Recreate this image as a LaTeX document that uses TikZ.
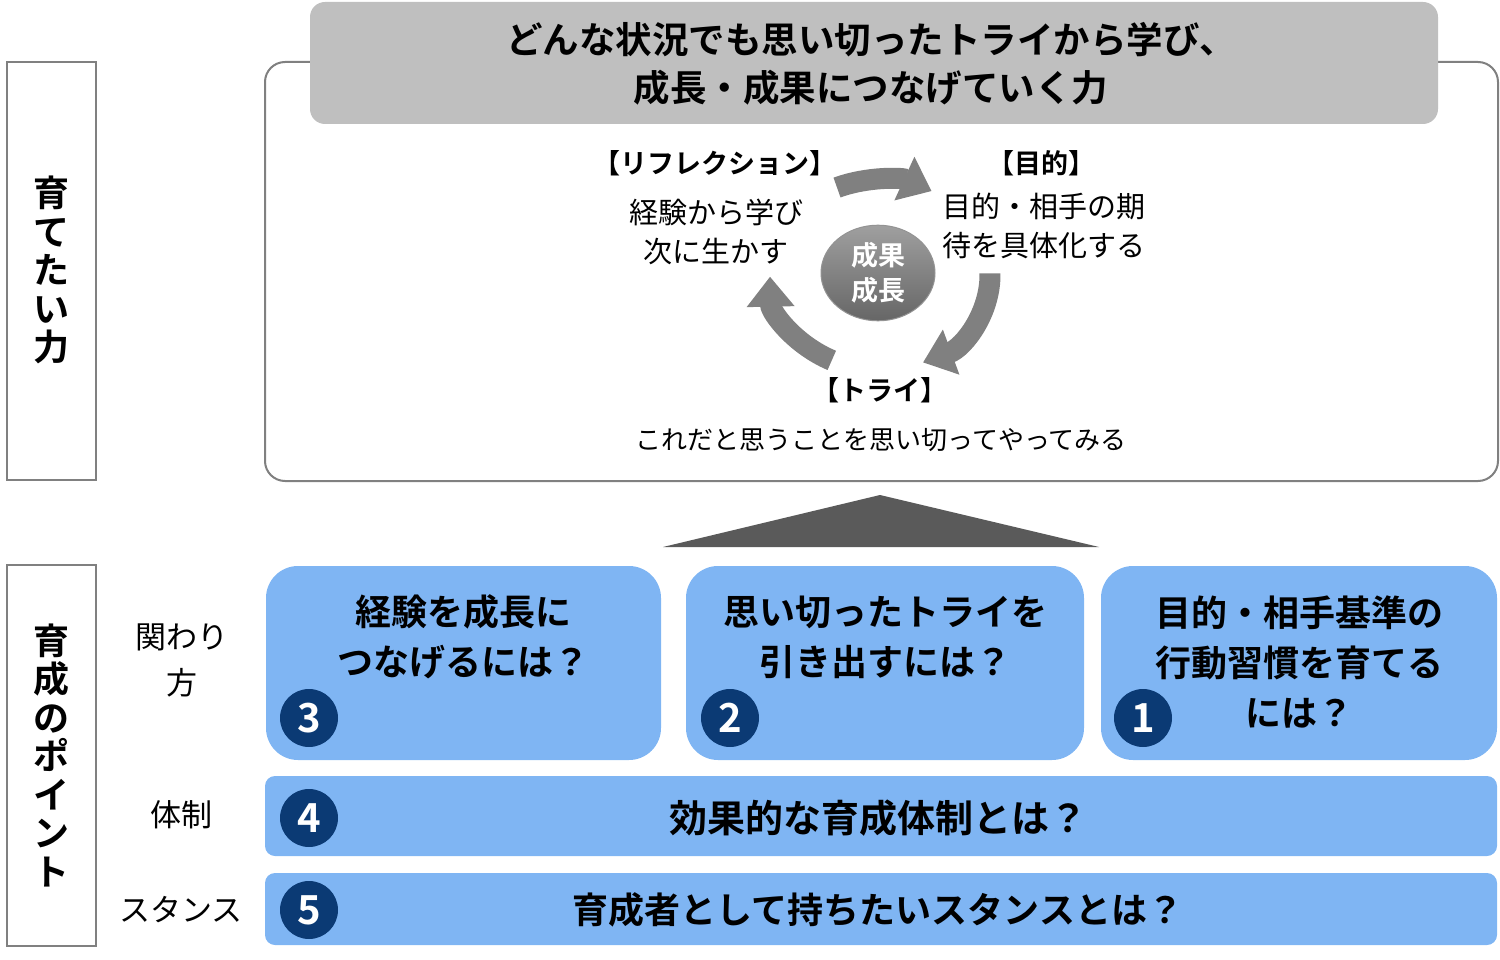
\documentclass[tikz,border=0pt]{standalone}
\usepackage{fontspec}
\setmainfont{Noto Sans CJK JP}[BoldFont={Noto Sans CJK JP Bold}]
\usetikzlibrary{shapes.geometric,arrows.meta}
\definecolor{qblue}{RGB}{127,181,243}
\definecolor{numblue}{RGB}{11,58,116}
\definecolor{framegray}{RGB}{128,128,128}
\definecolor{bandgray}{RGB}{191,191,191}
\definecolor{trigray}{RGB}{90,90,90}

\begin{document}
\begin{tikzpicture}[x=1pt,y=1pt,
		frame/.style={draw=framegray, line width=2pt, fill=white, inner sep=0pt},
		qbox/.style={fill=qblue, rounded corners=32pt, inner sep=0pt, minimum height=194pt},
		qbar/.style={fill=qblue, rounded corners=10pt, inner sep=0pt, minimum width=1232pt},
		qtext/.style={align=center, font=\fontsize{36}{50}\selectfont\bfseries},
		num/.style={circle, fill=numblue, text=white, minimum size=58pt, inner sep=0pt, font=\fontsize{40}{40}\selectfont\bfseries},
		vtext/.style={align=center, font=\fontsize{36}{38.5}\selectfont\bfseries},
		side/.style={align=center, font=\fontsize{31}{46}\selectfont},
		head/.style={font=\fontsize{27}{30}\selectfont\bfseries},
		body/.style={align=center, font=\fontsize{29}{39}\selectfont},
		cycarrow/.style={draw=framegray, line width=21pt, -{Triangle[width=46pt,length=30pt]}}
	]
		\useasboundingbox (0,0) rectangle (1500,-960);

		% left frames
		\node[frame, minimum width=89pt, minimum height=418pt] (leftup) at (51.5,-271) {};
		\node[vtext] (leftupt) at (51.5,-270) {育\\て\\た\\い\\力};
		\node[frame, minimum width=89pt, minimum height=381pt] (leftdown) at (51.5,-755.5) {};
		\node[vtext] (leftdownt) at (51.5,-755) {育\\成\\の\\ポ\\イ\\ン\\ト};

		% upper part
		\node[frame, rounded corners=20pt, minimum width=1233pt, minimum height=419pt] (goal) at (881.5,-271.5) {};
		\node[fill=bandgray, rounded corners=15pt, minimum width=1128pt, minimum height=122pt, inner sep=0pt] (band) at (874,-63) {};
		\node[align=center, font=\fontsize{36.5}{48}\selectfont\bfseries] (bandt) at (871,-64) {どんな状況でも思い切ったトライから学び、\\成長・成果につなげていく力};

		\coordinate (cc) at (880,-275);
		\draw[cycarrow] (cc) ++(113:110 and 95) arc[start angle=113, end angle=62, x radius=110, y radius=95];
		\draw[cycarrow] (cc) ++(1:110 and 95) arc[start angle=1, end angle=-67, x radius=110, y radius=95];
		\draw[cycarrow] (cc) ++(-116:110 and 95) arc[start angle=-116, end angle=-179, x radius=110, y radius=95];

		\node[ellipse, minimum width=114pt, minimum height=88pt, top color=gray!75, bottom color=gray!80!black, draw=gray!85, line width=1pt, text=white, align=center, font=\fontsize{27}{35}\selectfont\bfseries] (cyc) at (878,-273) {成果\\成長};

		\node[head] (refl) at (715,-163) {【リフレクション】};
		\node[body] (reflt) at (716,-232) {経験から学び\\次に生かす};
		\node[head] (purp) at (1041,-163) {【目的】};
		\node[body] (purpt) at (1044,-226) {目的・相手の期\\待を具体化する};
		\node[head] (try) at (880,-390) {【トライ】};
		\node[font=\fontsize{26}{30}\selectfont] (tryt) at (881,-440) {これだと思うことを思い切ってやってみる};

		\fill[trigray] (663,-547) -- (880,-495) -- (1099,-547) -- cycle;

		% lower part
		\node[side] (skaka) at (182,-660) {関わり\\方};
		\node[side] (stai) at (181,-815) {体制};
		\node[side] (ssta) at (181,-910) {スタンス};

		\node[qbox, minimum width=395pt] (q3) at (463.5,-663) {};
		\node[qbox, minimum width=398pt] (q2) at (885,-663) {};
		\node[qbox, minimum width=396pt] (q1) at (1299,-663) {};
		\node[qbar, minimum height=80pt] (q4) at (881,-816) {};
		\node[qbar, minimum height=72pt] (q5) at (881,-909) {};

		\node[qtext] (q3t) at (463,-637) {経験を成長に\\つなげるには？};
		\node[qtext] (q2t) at (885,-637) {思い切ったトライを\\引き出すには？};
		\node[qtext] (q1t) at (1299,-662) {目的・相手基準の\\行動習慣を育てる\\には？};
		\node[qtext, font=\fontsize{38}{50}\selectfont\bfseries] (q4t) at (878,-818) {効果的な育成体制とは？};
		\node[qtext] (q5t) at (878,-910) {育成者として持ちたいスタンスとは？};

		\node[num] (n3) at (309,-718) {3};
		\node[num] (n2) at (730,-718) {2};
		\node[num] (n1) at (1143,-718) {1};
		\node[num] (n4) at (309,-818) {4};
		\node[num] (n5) at (309,-910) {5};

	\end{tikzpicture}
\end{document}
